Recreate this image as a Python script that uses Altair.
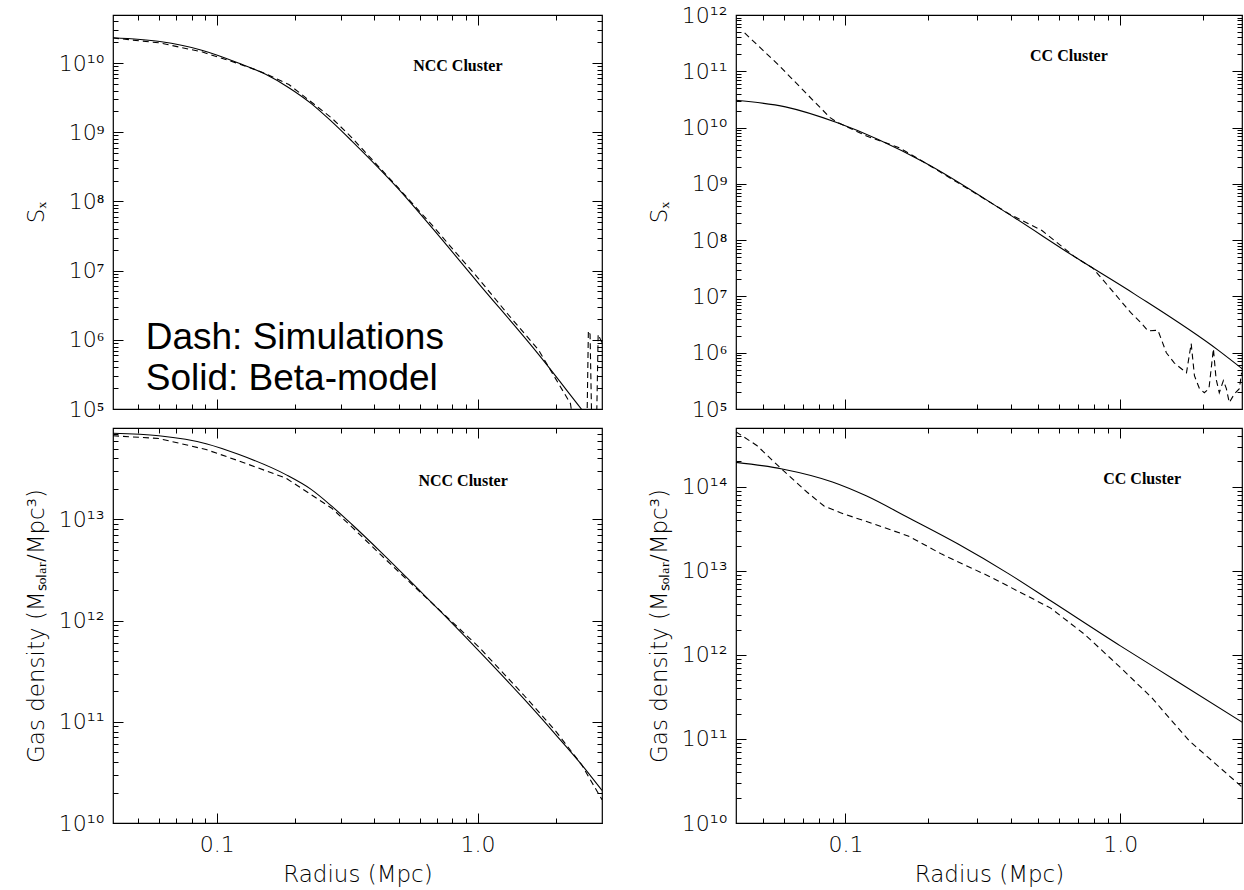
import altair as alt
import pandas as pd

# ---------------- data ----------------
# Top-left: NCC cluster, surface brightness S_X
ncc_sx_solid_r = [0.04, 0.0605, 0.0876, 0.121, 0.154, 0.189, 0.231, 0.276, 0.329, 0.498, 0.667, 1.01, 1.71, 2.5, 3.0]
ncc_sx_solid_v = [2.32e10, 2.04e10, 1.53e10, 1.0e10, 6.87e9, 4.4e9, 2.57e9, 1.42e9, 7.5e8, 1.5e8, 4.2e7, 6.5e6,
                  6.2e5, 1.0e5, 4.2e4]
ncc_sx_dash_r = [0.04, 0.0605, 0.0876, 0.121, 0.15, 0.189, 0.276, 0.33, 0.498, 0.667, 1.01, 1.3, 1.71,
                 2.27, 2.4, 2.62, 2.66, 2.7, 2.75, 2.85, 2.9, 3.0]
ncc_sx_dash_v = [2.3e10, 1.95e10, 1.45e10, 9.8e9, 7.3e9, 4.9e9, 1.6e9, 8.3e8, 1.55e8, 4.6e7, 7.6e6, 2.4e6, 7.2e5,
                 1.2e5, 3e4, 3e4, 1.35e6, 1.2e6, 3e4, 3e4, 1.2e6, 9e5]

# Top-right: CC cluster, surface brightness S_X
cc_sx_solid_r = [0.04, 0.0605, 0.093, 0.194, 0.393, 0.689, 1.127, 2.28, 2.8]
cc_sx_solid_v = [3.05e10, 2.33e10, 1.23e10, 2.4e9, 2.9e8, 4.9e7, 1.1e7, 1.09e6, 5.0e5]
cc_sx_dash_r = [0.043, 0.0568, 0.0726, 0.088, 0.093, 0.12, 0.157, 0.194, 0.393, 0.52, 0.689, 0.793, 0.912,
                1.089, 1.19, 1.26, 1.37, 1.47, 1.57, 1.74, 1.81, 1.86, 1.94, 2.02, 2.1, 2.18, 2.23, 2.29,
                2.37, 2.43, 2.49, 2.6, 2.71, 2.76]
cc_sx_dash_v = [4.8e11, 1.33e11, 3.9e10, 1.5e10, 1.25e10, 7.0e9, 4.4e9, 2.4e9, 2.95e8, 1.47e8, 4.9e7, 3.2e7, 1.45e7,
                5.2e6, 3.4e6, 2.45e6, 2.5e6, 1.0e6, 6.6e5, 4.4e5, 1.45e6, 3.9e5, 2.3e5, 1.95e5, 2.3e5, 1.17e6,
                3.4e5, 1.95e5, 3.2e5, 2.3e5, 1.3e5, 1.86e5, 2.3e5, 4.4e5]

# Bottom-left: NCC cluster, gas density
ncc_rho_solid_r = [0.04, 0.06, 0.091, 0.121, 0.184, 0.23, 0.276, 0.33, 0.428, 0.594, 0.753, 1.1, 1.5, 2.0, 2.5, 3.0]
ncc_rho_solid_v = [7.1e13, 6.7e13, 5.6e13, 4.4e13, 2.77e13, 1.98e13, 1.35e13, 8.9e12, 4.7e12, 2.03e12, 1.1e12,
                   4.0e11, 1.7e11, 7.4e10, 3.8e10, 2.1e10]
ncc_rho_dash_r = [0.04, 0.06, 0.091, 0.121, 0.184, 0.276, 0.33, 0.428, 0.594, 0.753, 1.01, 1.5, 2.0, 2.5, 3.0]
ncc_rho_dash_v = [6.7e13, 6.3e13, 4.9e13, 3.8e13, 2.56e13, 1.29e13, 8.4e12, 4.4e12, 1.98e12, 1.12e12, 5.5e11,
                  1.85e11, 8.0e10, 3.8e10, 1.7e10]

# Bottom-right: CC cluster, gas density
cc_rho_solid_r = [0.04, 0.0589, 0.0897, 0.119, 0.169, 0.257, 0.393, 0.558, 1.0, 1.6, 2.8]
cc_rho_solid_v = [1.95e14, 1.63e14, 1.14e14, 7.8e13, 4.3e13, 2.08e13, 9.2e12, 4.4e12, 1.28e12, 4.9e11, 1.55e11]
cc_rho_dash_r = [0.04, 0.0476, 0.0589, 0.0726, 0.0836, 0.096, 0.127, 0.169, 0.224, 0.341, 0.558, 0.739, 1.0,
                 1.3, 1.78, 2.8]
cc_rho_dash_v = [4.5e14, 3.1e14, 1.6e14, 8.6e13, 5.9e13, 4.9e13, 3.6e13, 2.6e13, 1.58e13, 8.3e12, 3.6e12,
                 1.77e12, 7.1e11, 3.1e11, 9.5e10, 2.6e10]

# annotation texts and their positions (data coordinates)
panel_labels = ["NCC Cluster", "CC Cluster", "NCC Cluster", "CC Cluster"]
panel_label_r = [0.84, 0.65, 0.88, 1.2]
panel_label_v = [9.0e9, 1.86e11, 2.4e13, 1.25e14]
key_lines = ["Dash: Simulations", "Solid: Beta-model"]
key_r = [0.0534, 0.0534]
key_v = [1.06e6, 2.7e5]

x_title = "Radius (Mpc)"
sx_title = "S\u2093"
rho_title = "Gas density (M\u209b\u2092\u2097\u2090\u1d63/Mpc\u00b3)"

# ---------------- helpers ----------------
SUP = "['\u2070','\u00b9','\u00b2','\u00b3','\u2074','\u2075','\u2076','\u2077','\u2078','\u2079']"
EXP = "round(log(datum.value)/LN10)"
Y_LABEL = f"'10' + ({EXP} >= 10 ? '\u00b9' + {SUP}[{EXP}-10] : {SUP}[{EXP}])"

FONT = "DejaVu Sans"


def log_ticks(lo, hi):
    major, minor = [], []
    for e in range(-3, 16):
        for m in range(1, 10):
            v = float(f"{m}e{e}")
            if m == 1 and lo * 0.9999 <= v <= hi * 1.0001:
                major.append(v)
            elif m > 1 and lo * 1.0001 < v < hi * 0.9999:
                minor.append(v)
    return major, minor


def axis(orient, values, major, labels=False, title=None, fmt=None, label_expr=None):
    size = 10 if major else 5
    kw = dict(orient=orient, values=values, tickSize=size, offset=-size, domain=False, grid=False,
              labels=labels, ticks=True, tickColor="black", tickWidth=1, title=title,
              labelFont=FONT, labelFontSize=22, labelFontWeight=200, labelColor="black", labelOverlap=False,
              titleFont=FONT, titleFontSize=23, titleFontWeight=200, titleColor="black")
    if fmt:
        kw["format"] = fmt
    if label_expr:
        kw["labelExpr"] = label_expr
    if orient == "bottom":
        kw["labelPadding"] = 11
        kw["titlePadding"] = 8
    if orient == "left":
        kw["labelPadding"] = 9
        kw["titlePadding"] = 10
    return alt.Axis(**kw)


def panel(sr, sv, dr, dv, xdom, ydom, w, h, bottom, ytitle, lab_i, key=False):
    xs = alt.Scale(type="log", domain=xdom, nice=False)
    ys = alt.Scale(type="log", domain=ydom, nice=False)
    xM, xm = log_ticks(*xdom)
    yM, ym = log_ticks(*ydom)
    solid = pd.DataFrame({"r": sr, "v": sv})
    dash = pd.DataFrame({"r": dr, "v": dv})

    l1 = alt.Chart(solid).mark_line(color="black", strokeWidth=1.1, clip=True, interpolate="monotone").encode(
        x=alt.X("r:Q", scale=xs,
                axis=axis("bottom", xM, True, labels=bottom, title=x_title if bottom else None, fmt=".1f")),
        y=alt.Y("v:Q", scale=ys, axis=axis("left", yM, True, labels=True, title=ytitle, label_expr=Y_LABEL)),
    )
    l2 = alt.Chart(dash).mark_line(color="black", strokeWidth=1.1, strokeDash=[6, 4], clip=True).encode(
        x=alt.X("r:Q", scale=xs, axis=axis("bottom", xm, False)),
        y=alt.Y("v:Q", scale=ys, axis=axis("left", ym, False)),
    )
    l3 = alt.Chart(dash).mark_line(opacity=0, clip=True).encode(
        x=alt.X("r:Q", scale=xs, axis=axis("top", xM, True)),
        y=alt.Y("v:Q", scale=ys, axis=axis("right", yM, True)),
    )
    l4 = alt.Chart(dash).mark_line(opacity=0, clip=True).encode(
        x=alt.X("r:Q", scale=xs, axis=axis("top", xm, False)),
        y=alt.Y("v:Q", scale=ys, axis=axis("right", ym, False)),
    )
    ann = pd.DataFrame({"r": [panel_label_r[lab_i]], "v": [panel_label_v[lab_i]], "t": [panel_labels[lab_i]]})
    txt = alt.Chart(ann).mark_text(font="Liberation Serif", fontWeight="bold", fontSize=16,
                                   color="black", baseline="middle", align="center").encode(
        x=alt.X("r:Q", scale=xs, axis=None),
        y=alt.Y("v:Q", scale=ys, axis=None),
        text="t:N",
    )
    layers = [l1, l2, l3, l4, txt]
    if key:
        kdf = pd.DataFrame({"r": key_r, "v": key_v, "t": key_lines})
        layers.append(alt.Chart(kdf).mark_text(font="Liberation Sans", fontSize=37, color="black",
                                               align="left", baseline="middle").encode(
            x=alt.X("r:Q", scale=xs, axis=None),
            y=alt.Y("v:Q", scale=ys, axis=None),
            text="t:N",
        ))
    return alt.layer(*layers).resolve_axis(x="independent", y="independent").properties(width=w, height=h)


XL = [0.04, 3.0]
XR = [0.04, 2.77]

tl = panel(ncc_sx_solid_r, ncc_sx_solid_v, ncc_sx_dash_r, ncc_sx_dash_v, XL, [1e5, 4.94e10], 489, 394,
           False, sx_title, 0, key=True)
tr = panel(cc_sx_solid_r, cc_sx_solid_v, cc_sx_dash_r, cc_sx_dash_v, XR, [1e5, 1e12], 506, 394,
           False, sx_title, 1)
bl = panel(ncc_rho_solid_r, ncc_rho_solid_v, ncc_rho_dash_r, ncc_rho_dash_v, XL, [1e10, 8e13], 489, 395,
           True, rho_title, 2)
br = panel(cc_rho_solid_r, cc_rho_solid_v, cc_rho_dash_r, cc_rho_dash_v, XR, [1e10, 5e14], 506, 395,
           True, rho_title, 3)

chart = alt.concat(tl, tr, bl, br, columns=2, spacing={"row": 19, "column": 134}, bounds="flush").properties(
    padding={"left": 24, "top": 3, "right": 0, "bottom": 0},
    background="white",
).configure_view(stroke="black", strokeWidth=1.2)

chart.save("out.html", embed_options={"renderer": "svg", "actions": False})
